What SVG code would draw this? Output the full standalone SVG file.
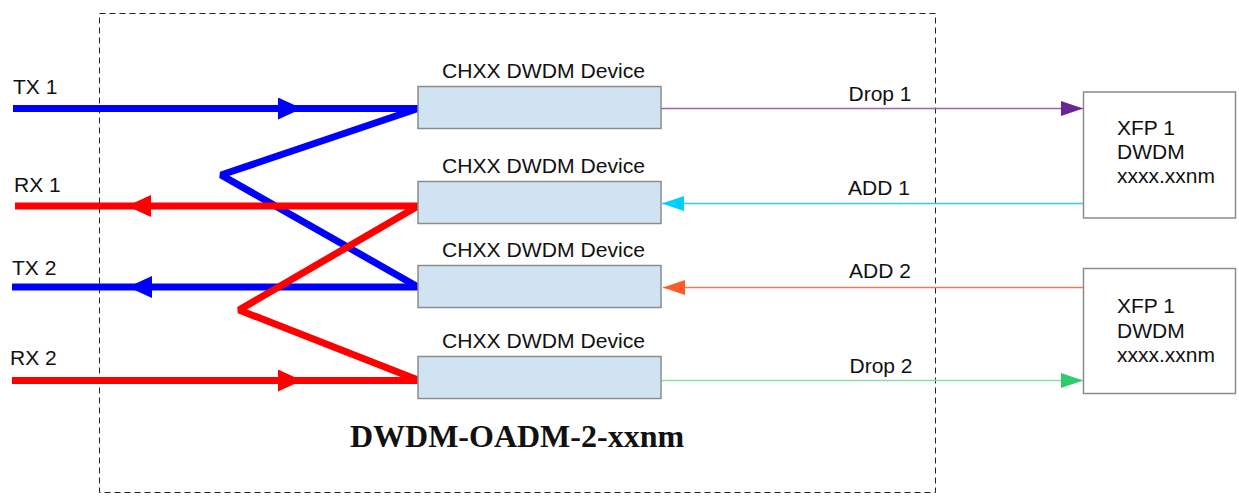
<svg xmlns="http://www.w3.org/2000/svg" width="1239" height="496" viewBox="0 0 1239 496">
<defs>
<style>
.lbl{font-family:"Liberation Sans",Arial,sans-serif;font-size:21px;fill:#111}
.dev{fill:#cfe3f2;stroke:#8c8c8c;stroke-width:1.5}
.xfp{fill:#fff;stroke:#8c8c8c;stroke-width:1.5}
.thick{fill:none;stroke-width:7;stroke-linejoin:bevel}
.thin{fill:none;stroke-width:1.5}
.title{font-family:"Liberation Serif","Times New Roman",serif;font-size:32px;font-weight:bold;fill:#111}
</style>
<marker id="mBlue" viewBox="0 0 24 22" refX="24" refY="11" markerWidth="24" markerHeight="22" markerUnits="userSpaceOnUse" orient="auto"><path d="M0,0 L24,11 L0,22 Z" fill="#0000ff"/></marker>
<marker id="mRed" viewBox="0 0 24 22" refX="24" refY="11" markerWidth="24" markerHeight="22" markerUnits="userSpaceOnUse" orient="auto"><path d="M0,0 L24,11 L0,22 Z" fill="#ff0000"/></marker>
<marker id="mPurple" viewBox="0 0 22 15" refX="22" refY="7.5" markerWidth="22" markerHeight="15" markerUnits="userSpaceOnUse" orient="auto"><path d="M0,0 L22,7.5 L0,15 Z" fill="#6a2496"/></marker>
<marker id="mCyan" viewBox="0 0 22 15" refX="22" refY="7.5" markerWidth="22" markerHeight="15" markerUnits="userSpaceOnUse" orient="auto"><path d="M0,0 L22,7.5 L0,15 Z" fill="#00d0ff"/></marker>
<marker id="mOrange" viewBox="0 0 22 15" refX="22" refY="7.5" markerWidth="22" markerHeight="15" markerUnits="userSpaceOnUse" orient="auto"><path d="M0,0 L22,7.5 L0,15 Z" fill="#ff5a2a"/></marker>
<marker id="mGreen" viewBox="0 0 22 15" refX="22" refY="7.5" markerWidth="22" markerHeight="15" markerUnits="userSpaceOnUse" orient="auto"><path d="M0,0 L22,7.5 L0,15 Z" fill="#2ecc6a"/></marker>
</defs>
<rect width="1239" height="496" fill="#fff"/>

<g id="frame">
<rect x="99.5" y="13.5" width="836" height="479" fill="none" stroke="#222" stroke-width="1" stroke-dasharray="6,4"/>
<text class="title" x="517" y="447" text-anchor="middle">DWDM-OADM-2-xxnm</text>
</g>

<g id="connectors">
<path class="thick" stroke="#0000ff" d="M13,108.5 L302,108.5 L418,108.5" marker-mid="url(#mBlue)"/>
<path class="thick" stroke="#0000ff" d="M418,108.5 L221,175 L418,287"/>
<path class="thick" stroke="#ff0000" d="M418,206 L127,206 L15,206" marker-mid="url(#mRed)"/>
<path class="thick" stroke="#0000ff" d="M418,287 L128,287 L12,287" marker-mid="url(#mBlue)"/>
<path class="thick" stroke="#ff0000" d="M418,206 L239,310 L418,380"/>
<path class="thick" stroke="#ff0000" d="M12,380.5 L302,380.5 L418,380.5" marker-mid="url(#mRed)"/>
<path class="thin" stroke="#9b5fc0" d="M661,108.5 L1083,108.5" marker-end="url(#mPurple)"/>
<path class="thin" stroke="#3cc8e6" d="M1084,203.5 L662,203.5" marker-end="url(#mCyan)"/>
<path class="thin" stroke="#f07a5a" d="M1084,287.5 L663,287.5" marker-end="url(#mOrange)"/>
<path class="thin" stroke="#86e0a6" d="M661,380.5 L1083,380.5" marker-end="url(#mGreen)"/>
<text class="lbl" x="880" y="101" text-anchor="middle">Drop 1</text>
<text class="lbl" x="879" y="195" text-anchor="middle">ADD 1</text>
<text class="lbl" x="880" y="278" text-anchor="middle">ADD 2</text>
<text class="lbl" x="881" y="373" text-anchor="middle">Drop 2</text>
</g>

<g id="tx1"><text class="lbl" x="13" y="94">TX 1</text></g>
<g id="rx1"><text class="lbl" x="14" y="192">RX 1</text></g>
<g id="tx2"><text class="lbl" x="12" y="275">TX 2</text></g>
<g id="rx2"><text class="lbl" x="10" y="365">RX 2</text></g>

<g id="dev1">
<rect class="dev" x="418" y="86.5" width="243" height="42"/>
<text class="lbl" x="442" y="78" textLength="203" lengthAdjust="spacingAndGlyphs">CHXX DWDM Device</text>
</g>
<g id="dev2">
<rect class="dev" x="418" y="181.5" width="243" height="42"/>
<text class="lbl" x="442" y="173" textLength="203" lengthAdjust="spacingAndGlyphs">CHXX DWDM Device</text>
</g>
<g id="dev3">
<rect class="dev" x="418" y="265.5" width="243" height="42"/>
<text class="lbl" x="442" y="257" textLength="203" lengthAdjust="spacingAndGlyphs">CHXX DWDM Device</text>
</g>
<g id="dev4">
<rect class="dev" x="418" y="356.5" width="243" height="42"/>
<text class="lbl" x="442" y="348" textLength="203" lengthAdjust="spacingAndGlyphs">CHXX DWDM Device</text>
</g>

<g id="xfp1">
<rect class="xfp" x="1083.5" y="92" width="152" height="126"/>
<text class="lbl" x="1117" y="135">XFP 1</text>
<text class="lbl" x="1117" y="159">DWDM</text>
<text class="lbl" x="1117" y="183">xxxx.xxnm</text>
</g>
<g id="xfp2">
<rect class="xfp" x="1083.5" y="268.5" width="152" height="125"/>
<text class="lbl" x="1117" y="313">XFP 1</text>
<text class="lbl" x="1117" y="338">DWDM</text>
<text class="lbl" x="1117" y="362">xxxx.xxnm</text>
</g>
</svg>
